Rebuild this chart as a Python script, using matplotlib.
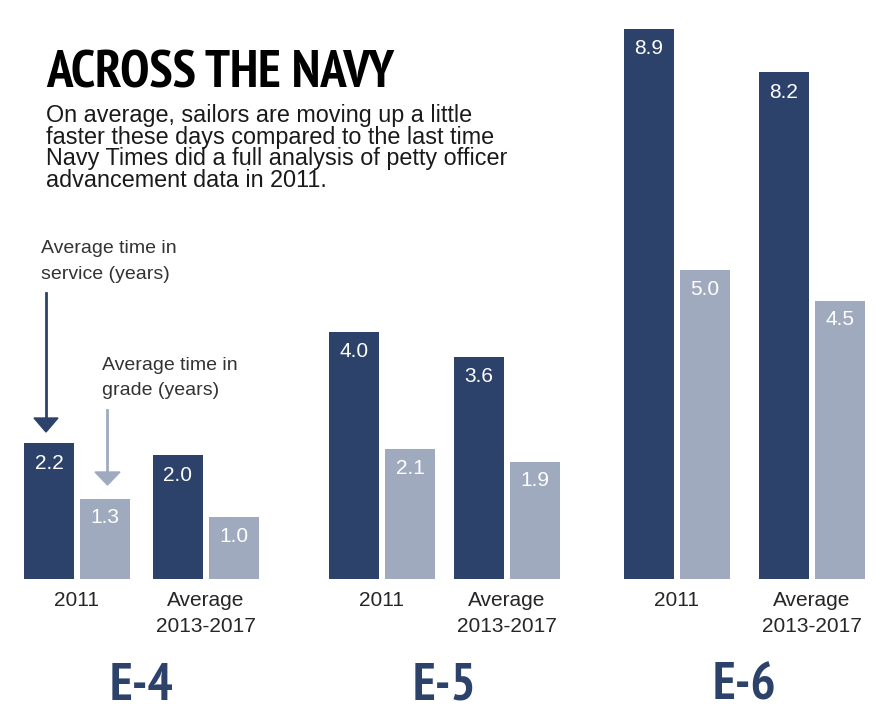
import matplotlib
matplotlib.use("Agg")
import matplotlib.pyplot as plt
from matplotlib import font_manager as fm
from matplotlib.patches import Polygon

# Datos
ranks = ["E-4", "E-5", "E-6"]
period_labels = ["2011", "Average\n2013-2017"]
service_2011 = [2.2, 4.0, 8.9]
grade_2011 = [1.3, 2.1, 5.0]
service_avg = [2.0, 3.6, 8.2]
grade_avg = [1.0, 1.9, 4.5]

title = "ACROSS THE NAVY"
subtitle = ["On average, sailors are moving up a little",
            "faster these days compared to the last time",
            "Navy Times did a full analysis of petty officer",
            "advancement data in 2011."]

DARK = "#2c426b"
LIGHT = "#a0aabe"
TEXT = "#262626"
plt.rcParams["font.family"] = ["Liberation Sans", "DejaVu Sans"]

# buscar una fuente estrecha en negrita, si existe
narrow_bold = None
for f in fm.fontManager.ttflist:
    if "narrow" in (f.name + f.fname).lower() and f.weight in ("bold", 700) \
            and f.style == "normal":
        narrow_bold = f.fname
        break
if narrow_bold:
    title_kw = dict(fontproperties=fm.FontProperties(fname=narrow_bold, size=38))
    rank_kw = dict(fontproperties=fm.FontProperties(fname=narrow_bold, size=38))
else:
    title_kw = dict(fontsize=32, fontweight="bold")
    rank_kw = dict(fontsize=34, fontweight="bold")

W, H = 887, 723
BASE = 579          # linea base en pixeles desde arriba
PX_PER_UNIT = 61.8
BAR_W = 50
LIGHT_OFF = 56
pair_left = [[24, 153], [329, 454], [624, 759]]

fig = plt.figure(figsize=(W / 100, H / 100), dpi=100)

# ejes de las barras
ax = fig.add_axes([0, (H - BASE) / H, 1, BASE / H])
ax.set_xlim(0, W)
ax.set_ylim(0, BASE / PX_PER_UNIT)
ax.axis("off")

# ejes en pixeles para textos y flechas
px = fig.add_axes([0, 0, 1, 1], zorder=3)
px.set_xlim(0, W)
px.set_ylim(H, 0)
px.axis("off")
px.patch.set_visible(False)

series = [(service_2011, grade_2011), (service_avg, grade_avg)]
for i, rank in enumerate(ranks):
    for j, (serv, grad) in enumerate(series):
        left = pair_left[i][j]
        xd = left + BAR_W / 2
        xl = left + LIGHT_OFF + BAR_W / 2
        ax.bar(xd, serv[i], width=BAR_W, color=DARK)
        ax.bar(xl, grad[i], width=BAR_W, color=LIGHT)
        ax.text(xd, serv[i] - 20 / PX_PER_UNIT, f"{serv[i]:.1f}", color="white",
                fontsize=15, ha="center", va="center")
        ax.text(xl, grad[i] - 19 / PX_PER_UNIT, f"{grad[i]:.1f}", color="white",
                fontsize=15, ha="center", va="center")
        # etiqueta del periodo
        cx = left + (LIGHT_OFF + BAR_W) / 2
        for k, line in enumerate(period_labels[j].split("\n")):
            px.text(cx, 606 + 26 * k, line, color=TEXT, fontsize=15,
                    ha="center", va="baseline")
    gx = (pair_left[i][0] + pair_left[i][1] + LIGHT_OFF + BAR_W) / 2
    px.text(gx, 700, rank, color=DARK, ha="center", va="baseline", **rank_kw)

# titulo y subtitulo
px.text(46, 87, title, color="black", va="baseline", **title_kw)
for k, line in enumerate(subtitle):
    px.text(46, 122 + 21.6 * k, line, fontsize=16.8, color="#1a1a1a",
            va="baseline")

# anotaciones
px.text(41, 253, "Average time in", fontsize=14, color="#333333", va="baseline")
px.text(41, 279, "service (years)", fontsize=14, color="#333333", va="baseline")
px.text(102, 370, "Average time in", fontsize=14, color="#333333", va="baseline")
px.text(102, 395, "grade (years)", fontsize=14, color="#333333", va="baseline")

px.plot([46, 46], [293, 420], color=DARK, lw=2)
px.add_patch(Polygon([(34, 418), (58, 418), (46, 432)], closed=True, color=DARK))
px.plot([107.5, 107.5], [410, 473], color=LIGHT, lw=2)
px.add_patch(Polygon([(95, 472), (120, 472), (107.5, 485)], closed=True, color=LIGHT))

fig.savefig("out.png", dpi=100)
